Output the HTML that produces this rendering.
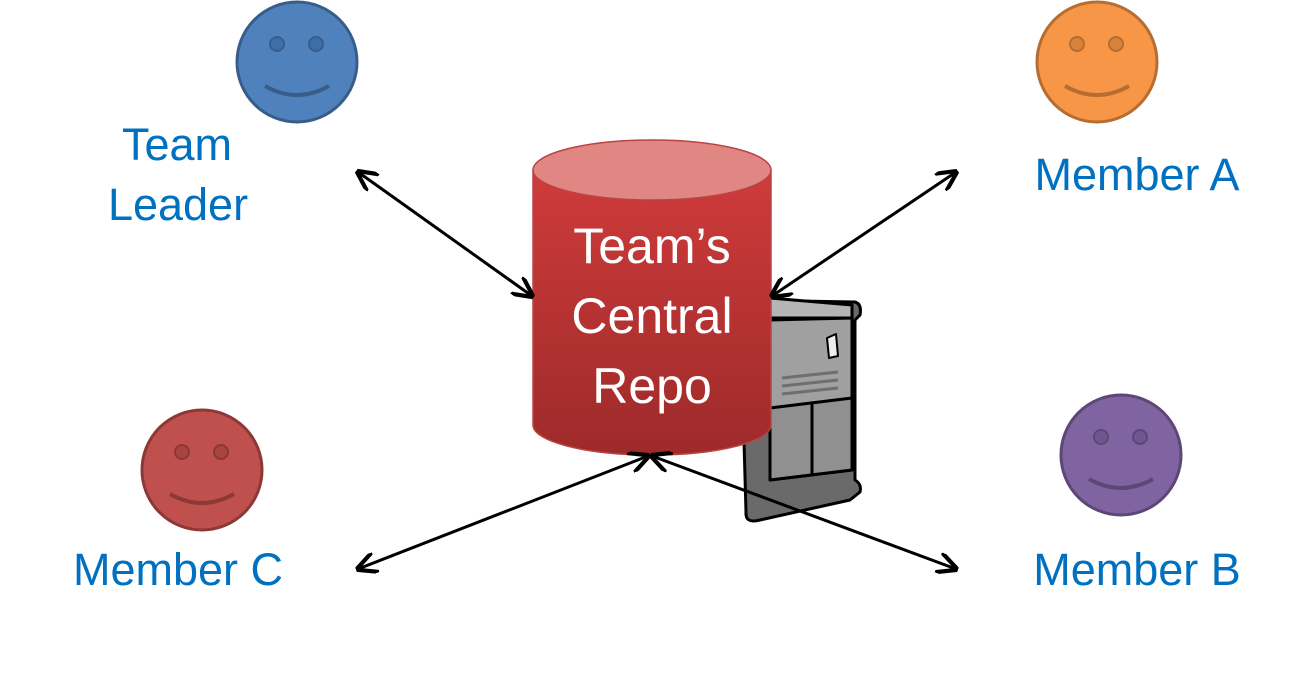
<!DOCTYPE html>
<html><head><style>
body{margin:0;width:1316px;height:690px;background:#fff;overflow:hidden}
svg{display:block}
text{font-family:"Liberation Sans",sans-serif}
</style></head><body>
<svg width="1316" height="690" viewBox="0 0 1316 690">
<defs>
<linearGradient id="cyl" x1="0" y1="0" x2="0" y2="1">
<stop offset="0" stop-color="#cf3b3b"/><stop offset="1" stop-color="#9e2a2a"/>
</linearGradient>
<marker id="ah" viewBox="0 0 10 10" refX="9" refY="5" markerWidth="7" markerHeight="7" orient="auto-start-reverse">
<path d="M0,0 L10,5 L0,10" fill="none" stroke="#000" stroke-width="2"/>
</marker>
</defs>
<g stroke-width="3">
<circle cx="297" cy="62" r="60" fill="#4f81bd" stroke="#385d8a"/>
<circle cx="1097" cy="62" r="60" fill="#f79646" stroke="#b66d31"/>
<circle cx="202" cy="470" r="60" fill="#c0504d" stroke="#8c3836"/>
<circle cx="1121" cy="455" r="60" fill="#8064a2" stroke="#5c4776"/>
</g>
<g>
<circle cx="277" cy="44" r="7" fill="#3f6fa8" stroke="#385d8a" stroke-width="2"/><circle cx="316" cy="44" r="7" fill="#3f6fa8" stroke="#385d8a" stroke-width="2"/>
<path d="M265,86 Q297,104 329,86" fill="none" stroke="#385d8a" stroke-width="4"/>
<circle cx="1077" cy="44" r="7" fill="#d9823b" stroke="#b66d31" stroke-width="2"/><circle cx="1116" cy="44" r="7" fill="#d9823b" stroke="#b66d31" stroke-width="2"/>
<path d="M1065,86 Q1097,104 1129,86" fill="none" stroke="#b66d31" stroke-width="4"/>
<circle cx="182" cy="452" r="7" fill="#a84442" stroke="#8c3836" stroke-width="2"/><circle cx="221" cy="452" r="7" fill="#a84442" stroke="#8c3836" stroke-width="2"/>
<path d="M170,494 Q202,512 234,494" fill="none" stroke="#8c3836" stroke-width="4"/>
<circle cx="1101" cy="437" r="7" fill="#6f5690" stroke="#5c4776" stroke-width="2"/><circle cx="1140" cy="437" r="7" fill="#6f5690" stroke="#5c4776" stroke-width="2"/>
<path d="M1089,479 Q1121,497 1153,479" fill="none" stroke="#5c4776" stroke-width="4"/>
</g>
<!-- server -->
<g stroke="#000" stroke-width="3" stroke-linejoin="round">
<path d="M740,300 L855,302 Q862,304 860,315 L855,320 L855,480 Q862,484 860,492 L850,500 L760,520 Q745,524 746,512 L740,300Z" fill="#6a6a6a"/>
<path d="M770,298 L852,305 L852,318 L770,318Z" fill="#b5b5b5"/>
<path d="M770,320 L852,318 L852,470 L770,480Z" fill="#a0a0a0"/>
<path d="M770,408 L852,398 L852,470 L770,480Z" fill="#909090"/>
<line x1="812" y1="404" x2="812" y2="476"/>
<path d="M827,338 L836,334 L838,356 L829,358Z" fill="#eee" stroke-width="2"/>
</g>
<g stroke="#6e6e6e" stroke-width="3"><line x1="782" y1="378" x2="838" y2="372"/><line x1="782" y1="386" x2="838" y2="380"/><line x1="782" y1="394" x2="838" y2="388"/></g>
<!-- cylinder -->
<path d="M533,170 L533,425 A119,30 0 0 0 771,425 L771,170Z" fill="url(#cyl)" stroke="#b94442" stroke-width="1.5"/>
<ellipse cx="652" cy="170" rx="119" ry="30" fill="#e08784" stroke="#b94442" stroke-width="1.5"/>
<g fill="#fff" font-size="50" text-anchor="middle">
<text x="652" y="263">Team’s</text>
<text x="652" y="333">Central</text>
<text x="652" y="403">Repo</text>
</g>
<g stroke="#000" stroke-width="3" marker-start="url(#ah)" marker-end="url(#ah)">
<line x1="358" y1="172" x2="532" y2="296"/>
<line x1="956" y1="172" x2="772" y2="296"/>
<line x1="358" y1="569" x2="648" y2="456"/>
<line x1="956" y1="569" x2="652" y2="456"/>
</g>
<g fill="#0070c0" font-size="45" text-anchor="middle">
<text x="177" y="160">Team</text>
<text x="178" y="220">Leader</text>
<text x="1137" y="190">Member A</text>
<text x="178" y="585">Member C</text>
<text x="1137" y="585">Member B</text>
</g>
</svg>
</body></html>
